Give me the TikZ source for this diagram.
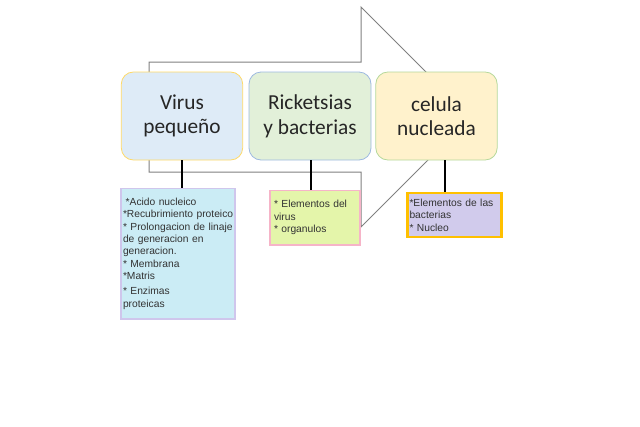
\documentclass[tikz,border=0pt]{standalone}
\usepackage{fontspec}
\newfontfamily\stagefont{Carlito}
\newfontfamily\notefont{Liberation Sans}
\definecolor{virusfill}{HTML}{DEEBF7}
\definecolor{virusline}{HTML}{FFD966}
\definecolor{rickfill}{HTML}{E2F0D9}
\definecolor{rickline}{HTML}{9DB9E0}
\definecolor{celfill}{HTML}{FFF2CC}
\definecolor{celline}{HTML}{B4D89A}
\definecolor{acidfill}{HTML}{CBECF5}
\definecolor{acidline}{HTML}{CFC6EC}
\definecolor{elemfill}{HTML}{E4F5AA}
\definecolor{elemline}{HTML}{F6B4C8}
\definecolor{nucfill}{HTML}{D1CBEC}
\definecolor{nucline}{HTML}{FFC000}
\begin{document}
\begin{tikzpicture}[x=0.75pt,y=-0.75pt,
  stage/.style={draw, line width=0.6pt, rounded corners=9pt, minimum width=91pt,
    minimum height=66pt, align=center, inner sep=2pt, text=black!85,
    font=\stagefont\fontsize{16}{18.5}\selectfont},
  note/.style={draw, line width=1pt, align=left, inner sep=1.5pt, text=black!80,
    font=\notefont\fontsize{7.7}{9.3}\selectfont},
  link/.style={line width=1.5pt}]
\useasboundingbox (0,0) rectangle (640,426);
% big arrow behind the boxes
\draw[gray, line width=0.75pt] (149,120) -- (149,62) -- (361,62) -- (361,7) -- (471,117)
  -- (361,227) -- (361,172) -- (149,172) -- cycle;
% top row
\node[stage, fill=virusfill, draw=virusline] (virus) at (182,116) {Virus\\pequeño};
\node[stage, fill=rickfill, draw=rickline, minimum width=91.5pt] (rick) at (310,116) {Ricketsias\\y bacterias};
\node[stage, fill=celfill, draw=celline] (celula) at (436.5,116) {celula\\nucleada};
% lower notes
\node[note, fill=acidfill, draw=acidline, text width=82.5pt, minimum height=98pt] (acid) at (178,253.5)
  {\hspace{2pt}*Acido nucleico\\\mbox{*Recubrimiento proteico}\\{}* Prolongacion de linaje\\de generacion en\\generacion.\\
   {}* Membrana\\{}*Matris\\[2pt]{}* Enzimas\\proteicas};
\node[note, fill=elemfill, draw=elemline, inner xsep=3pt, text width=61.5pt, minimum height=41pt] (elem) at (315,217.5)
  {* Elementos del\\virus\\{}* organulos};
\node[note, fill=nucfill, draw=nucline, line width=1.6pt, text width=67.5pt, minimum height=32.5pt] (nucleo) at (454.5,215)
  {*Elementos de las\\bacterias\\{}* Nucleo};
% connectors
\draw[link] (virus.south) -- (virus.south |- acid.north);
\draw[link] ([xshift=0.75pt]rick.south) -- ([xshift=0.75pt]rick.south |- elem.north);
\draw[link] ([xshift=6.4pt]celula.south) -- ([xshift=6.4pt]celula.south |- nucleo.north);
\end{tikzpicture}
\end{document}
